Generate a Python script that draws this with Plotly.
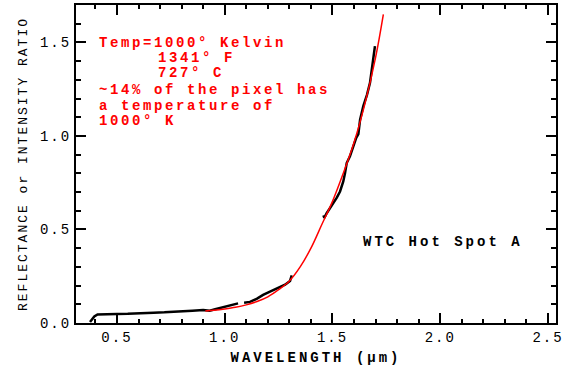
import plotly.graph_objects as go

# Measured spectrum (black)
black_x = [0.375, 0.383, 0.395, 0.41, 0.45, 0.50, 0.55, 0.60, 0.65, 0.67, 0.72, 0.79, 0.85, 0.90, 0.93,
           0.96, 0.99, 1.03, 1.062, None, 1.09, 1.117, 1.15, 1.178, 1.21, 1.241, 1.28, 1.303, 1.311, None,
           1.458, 1.462, 1.473, 1.49, 1.504, 1.52, 1.535, 1.55, 1.558, 1.566, 1.581, 1.597, 1.61, 1.62,
           1.628, 1.643, 1.66, 1.674, 1.685, 1.697]
black_y = [0.005, 0.015, 0.035, 0.046, 0.048, 0.048, 0.049, 0.050, 0.051, 0.055, 0.057, 0.060, 0.066, 0.070, 0.066,
           0.075, 0.085, 0.095, 0.105, None, 0.108, 0.113, 0.130, 0.150, 0.168, 0.186, 0.205, 0.225, 0.255, None,
           0.575, 0.562, 0.587, 0.615, 0.641, 0.670, 0.703, 0.757, 0.800, 0.855, 0.891, 0.944, 0.990, 1.010,
           1.087, 1.159, 1.220, 1.284, 1.380, 1.480]

# Blackbody fit (red)
red_x = [0.91, 0.95, 1.00, 1.05, 1.10, 1.15, 1.20, 1.25, 1.30, 1.35, 1.40, 1.45, 1.50, 1.55, 1.60,
         1.65, 1.70, 1.736]
red_y = [0.064, 0.068, 0.075, 0.084, 0.097, 0.115, 0.140, 0.178, 0.225, 0.300, 0.400, 0.525, 0.650, 0.800, 0.965,
         1.170, 1.420, 1.650]

x_ticks = [0.5, 1.0, 1.5, 2.0, 2.5]
y_ticks = [0.0, 0.5, 1.0, 1.5]

red_lines = ["Temp=1000° Kelvin", "1341° F", "727° C", "~14% of the pixel has", "a temperature of", "1000° K"]
red_line_x = [0.41, 0.684, 0.684, 0.41, 0.41, 0.41]
red_line_y = [1.498, 1.418, 1.334, 1.248, 1.162, 1.078]

FONT = "Liberation Mono, Courier New, monospace"

fig = go.Figure()
fig.add_trace(go.Scatter(x=black_x, y=black_y, mode="lines",
                         line=dict(color="black", width=2.5), connectgaps=False, hoverinfo="skip"))
fig.add_trace(go.Scatter(x=red_x, y=red_y, mode="lines", line_shape="spline",
                         line=dict(color="#ff0000", width=1.5), hoverinfo="skip"))

annotations = []
for t, x, y in zip(red_lines, red_line_x, red_line_y):
    annotations.append(dict(text=t, x=x, y=y, xref="x", yref="y", xanchor="left", yanchor="middle",
                            align="left", showarrow=False, borderpad=0,
                            font=dict(family=FONT, size=14, color="#ff0000", weight="bold")))
annotations.append(dict(text="WTC Hot Spot A", x=1.637, y=0.434, xref="x", yref="y", xanchor="left",
                        yanchor="middle", align="left", showarrow=False, borderpad=0,
                        font=dict(family=FONT, size=14, color="black", weight="bold")))

axis_common = dict(showgrid=False, zeroline=False, showline=True, linecolor="black", linewidth=2,
                   mirror="ticks", ticks="inside", ticklen=10, tickwidth=2, tickcolor="black",
                   tickfont=dict(family=FONT, size=14, color="black"))

fig.update_layout(
    width=566, height=371,
    margin=dict(l=76, r=10, t=5, b=48, autoexpand=False),
    paper_bgcolor="white", plot_bgcolor="white",
    showlegend=False,
    annotations=annotations,
    xaxis=dict(range=[0.31, 2.537], tickvals=x_ticks, ticktext=[f"{v:.1f}" for v in x_ticks],
               minor=dict(dtick=0.1, ticks="inside", ticklen=4, tickwidth=1.5, tickcolor="black"),
               automargin=True,
               title=dict(text="WAVELENGTH (µm)", standoff=7,
                          font=dict(family=FONT, size=14, color="black", weight="bold")),
               **axis_common),
    yaxis=dict(range=[0, 1.7], tickvals=y_ticks, ticktext=[f"{v:.1f}" for v in y_ticks],
               minor=dict(dtick=0.1, ticks="inside", ticklen=5, tickwidth=1.5, tickcolor="black"),
               automargin=False,
               title=dict(text="REFLECTANCE or INTENSITY RATIO",
                          font=dict(family=FONT, size=13, color="black")),
               **axis_common),
)

post = """
document.body.style.margin = '0px';
var gd = document.getElementById('{plot_id}');
function spaceText() {
  gd.querySelectorAll('text.annotation-text').forEach(function (t) {
    t.style.letterSpacing = (t.textContent.indexOf('WTC') === 0) ? '3px' : '2.6px';
  });
  gd.querySelectorAll('text.xtitle').forEach(function (t) { t.style.letterSpacing = '3px'; });
  gd.querySelectorAll('.xtick text, .ytick text').forEach(function (t) { t.style.letterSpacing = '2px'; });
  gd.querySelectorAll('text.ytitle').forEach(function (t) { t.style.letterSpacing = '2px'; });
}
spaceText();
gd.on('plotly_afterplot', spaceText);
"""

fig.write_html("out.html", post_script=post, config={"displayModeBar": False})
